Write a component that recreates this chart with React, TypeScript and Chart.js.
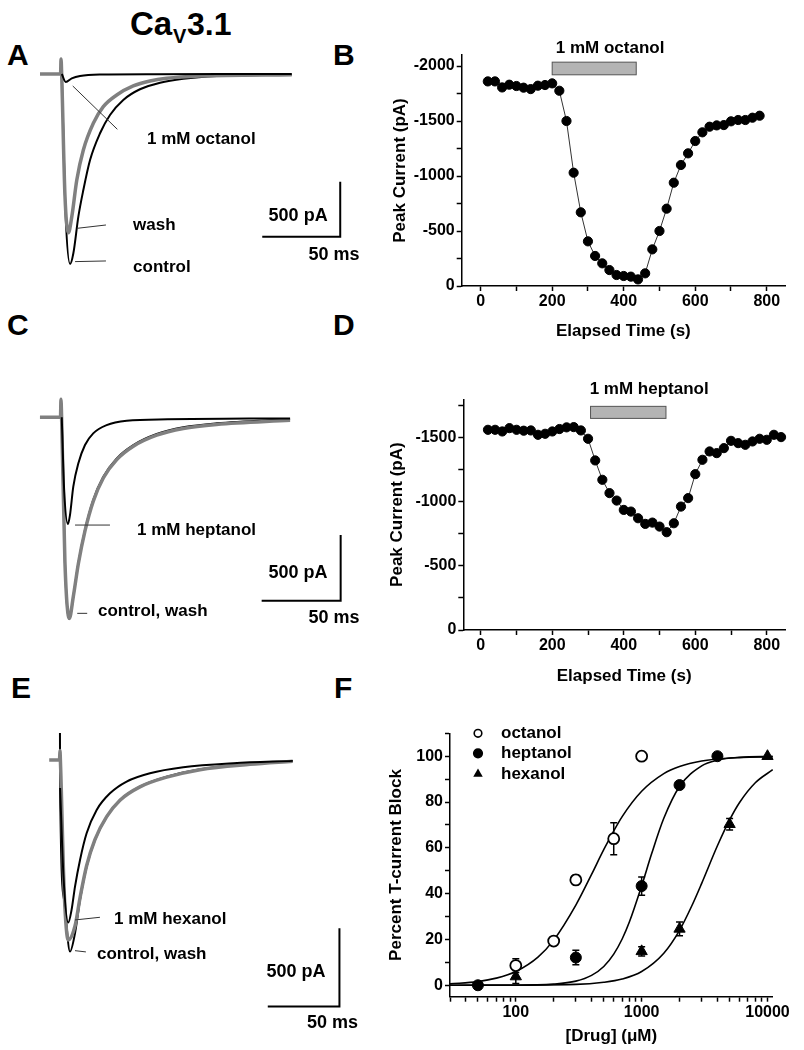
import React, { useEffect, useRef } from 'react';
import { Chart, registerables } from 'chart.js';

Chart.register(...registerables);

const FONT = "'Liberation Sans', Arial, Helvetica, sans-serif";
Chart.defaults.font.family = FONT;
Chart.defaults.color = '#000';

/* ===================== Panel A traces (ms, pA) ===================== */
const aControlT = [0.5, 3, 5.8, 7.9, 11.1, 14.3, 18.6, 25, 31.4, 39.9, 50.6, 63.5, 78.4, 99.8, 147.9];
const aControlI = [0, -1300, -1727, -1630, -1297, -1055, -782, -539, -373, -236, -139, -79, -43, -18, -6];
const aWashT = [-13.5, -0.3, 0, 0.4, 2.5, 4.7, 6.9, 10.1, 14.3, 20.7, 27.1, 35.7, 46.3, 57, 67.7, 89.1, 147.9];
const aWashI = [0, 0, 136, 0, -1100, -1443, -1297, -964, -691, -448, -297, -191, -109, -64, -39, -18, -6];
const aDrugT = [0.5, 3, 6.9, 12.2, 25, 60, 147.9];
const aDrugI = [0, -73, -40, -18, -5, -2, 0];
const aLabelText = ['1 mM octanol', 'wash', 'control'];
const aLabelT = [55.1, 46.2, 46.2];
const aLabelI = [-591, -1373, -1755];
const aPointers = [[7.5, -109, 36.1, -503], [10.4, -1403, 28.8, -1373], [9, -1706, 28.8, -1700]];
const aScaleCorner = [179, -1480];
const aScaleLabels = [[152, -1291], [175, -1645]];

/* ===================== Panel C traces ===================== */
const cControlT = [0.5, 2.5, 5.3, 7.8, 11, 15.2, 20.4, 26.8, 35.3, 45.8, 60.6, 77.4, 98.5, 145];
const cControlI = [0, -1100, -1537, -1365, -1111, -858, -629, -452, -312, -211, -127, -76, -46, -15];
const cWashT = [-13.3, -0.3, 0, 0.4, 2.5, 5.3, 7.8, 11, 15.2, 20.4, 26.8, 35.3, 45.8, 60.6, 77.4, 98.5, 145];
const cWashI = [0, 0, 137, 0, -1100, -1530, -1365, -1115, -865, -640, -462, -322, -220, -136, -85, -54, -22];
const cDrugT = [0.5, 2, 4.4, 5.7, 7.8, 11, 15.2, 20.4, 28.9, 41.6, 67.5, 145];
const cDrugI = [0, -550, -812, -744, -528, -350, -211, -122, -59, -26, -15, -8];
const cLabelText = ['1 mM heptanol', 'control, wash'];
const cLabelT = [48.1, 23.4];
const cLabelI = [-858, -1479];
const cPointers = [[8.9, -820, 31, -820], [10.3, -1492, 16.6, -1492]];
const cScaleCorner = [177, -1396];
const cScaleLabels = [[150, -1185], [172.8, -1528]];

/* ===================== Panel E traces ===================== */
const eControlT = [0, 0.1, 3, 7, 10.5, 14, 18.6, 24.4, 32.6, 41.9, 55.8, 74.5, 97.7, 132.6, 162.4];
const eControlI = [172, -179, -900, -1223, -1106, -893, -681, -511, -362, -255, -170, -107, -59, -26, -6];
const eWashT = [-7.5, -0.3, 0, 0.3, 3, 5.8, 10.5, 14, 18.6, 24.4, 32.6, 41.9, 55.8, 74.5, 97.7, 132.6, 162.4];
const eWashI = [0, 0, 60, 0, -850, -1149, -1060, -880, -675, -508, -362, -257, -172, -110, -62, -28, -8];
const eDrugT = [0.1, 2.5, 5.8, 8.1, 10.5, 14, 18.6, 25.6, 34.9, 46.5, 62.8, 86, 121, 162.4];
const eDrugI = [-179, -750, -1038, -957, -808, -638, -468, -319, -213, -138, -85, -47, -21, -6];
const eLabelText = ['1 mM hexanol', 'control, wash'];
const eLabelT = [37.7, 25.8];
const eLabelI = [-1017, -1238];
const ePointers = [[10.5, -1021, 27.9, -1004], [10.5, -1217, 18.1, -1225]];
const eScaleCorner = [195, -1574];
const eScaleLabels = [[164.7, -1351], [190.2, -1680]];

const scaleBarMs = 50;
const scaleBarPa = 500;

/* ===================== Panel B: time course, octanol ===================== */
const bTime = [20, 40, 60, 80, 100, 120, 140, 160, 180, 200, 220, 240, 260, 280, 300, 320, 340, 360, 380, 400,
  420, 440, 460, 480, 500, 520, 540, 560, 580, 600, 620, 640, 660, 680, 700, 720, 740, 760, 780];
const bCurrent = [-1860, -1860, -1805, -1830, -1818, -1803, -1790, -1821, -1827, -1842, -1775, -1500, -1030, -670,
  -406, -273, -206, -145, -100, -91, -85, -60, -115, -333, -500, -703, -939, -1100, -1206, -1318, -1397, -1448,
  -1460, -1463, -1497, -1509, -1509, -1530, -1548];
const bDrugSpan = [200, 435];
const bDrugLevel = [-2035, -1920];
const bDrugLabel = '1 mM octanol';
const bDrugLabelPos = [362, -2164];
const bYTicks = [-2000, -1750, -1500, -1250, -1000, -750, -500, -250, 0];

/* ===================== Panel D: time course, heptanol ===================== */
const dTime = [20, 40, 60, 80, 100, 120, 140, 160, 180, 200, 220, 240, 260, 280, 300, 320, 340, 360, 380, 400,
  420, 440, 460, 480, 500, 520, 540, 560, 580, 600, 620, 640, 660, 680, 700, 720, 740, 760, 780, 800, 820, 840];
const dCurrent = [-1562, -1562, -1549, -1575, -1562, -1555, -1557, -1523, -1531, -1549, -1568, -1581, -1583, -1557,
  -1492, -1323, -1172, -1068, -1010, -937, -924, -872, -828, -838, -807, -763, -833, -963, -1029, -1216, -1328,
  -1393, -1380, -1419, -1476, -1458, -1445, -1471, -1492, -1484, -1523, -1505];
const dDrugSpan = [307, 518];
const dDrugLevel = [-1745, -1651];
const dDrugLabel = '1 mM heptanol';
const dDrugLabelPos = [471, -1875];
const dYTicks = [-1750, -1500, -1250, -1000, -750, -500, -250, 0];

const timeTicks = [0, 100, 200, 300, 400, 500, 600, 700, 800];

/* ===================== Panel F: concentration-response ===================== */
const fOctanolConc = [100, 200, 300, 600, 1000];
const fOctanolBlock = [8.6, 19.3, 46, 64, 100];
const fOctanolErr = [3, 1, 2, 7, 0];
const fHeptanolConc = [50, 300, 1000, 2000, 4000];
const fHeptanolBlock = [0, 12.1, 43.3, 87.4, 100];
const fHeptanolErr = [0, 3.2, 4, 1, 0];
const fHexanolConc = [100, 1000, 2000, 5000, 10000];
const fHexanolBlock = [3.8, 14.8, 24.6, 70.3, 100];
const fHexanolErr = [3, 2, 3, 2.5, 0];
const fOctanolFitX = [30, 50, 70, 100, 150, 200, 300, 400, 500, 700, 1000, 1500, 2000, 3000, 5000, 11000];
const fOctanolFitY = [0.6, 1.6, 3.1, 6.0, 12.3, 19.7, 35.0, 48.4, 59.2, 73.6, 84.7, 92.4, 95.5, 97.9, 99.2, 99.8];
const fHeptanolFitX = [30, 100, 200, 300, 400, 500, 600, 700, 800, 1000, 1200, 1500, 2000, 3000, 4000, 6000, 11000];
const fHeptanolFitY = [0, 0, 0.5, 1.8, 4.3, 8.2, 13.6, 20.2, 27.7, 43.4, 57.4, 72.9, 86.8, 95.8, 98.3, 99.5, 99.9];
const fHexanolFitX = [30, 300, 500, 700, 1000, 1500, 2000, 2500, 3000, 4000, 5000, 6000, 8000, 11000];
const fHexanolFitY = [0, 0.4, 1.3, 2.7, 6.0, 14.0, 24.0, 34.6, 44.5, 60.9, 72.2, 79.8, 88.4, 94.1];
const fLegendNames = ['octanol', 'heptanol', 'hexanol'];
const fXTicks = [30, 40, 50, 60, 70, 80, 90, 100, 200, 300, 400, 500, 600, 700, 800, 900, 1000,
  2000, 3000, 4000, 5000, 6000, 7000, 8000, 9000, 10000];
const fXLabelled = [100, 1000, 10000];
const fYTicks = [0, 10, 20, 30, 40, 50, 60, 70, 80, 90, 100, 110];

/* ===================== helpers ===================== */
const pts = (xs: number[], ys: number[]) => xs.map((x, i) => ({ x, y: ys[i] }));
const boldFont = (size: number) => `bold ${size}px ${FONT}`;
const setTicks = (values: number[]) => (sc: any) => { sc.ticks = values.map((v) => ({ value: v })); };

type Box = { x: number; y: number; w: number; h: number };

function ChartCanvas({ box, make }: { box: Box; make: () => any }) {
  const ref = useRef<HTMLCanvasElement | null>(null);
  useEffect(() => {
    const chart = new Chart(ref.current as HTMLCanvasElement, make());
    return () => chart.destroy();
  }, []);
  return (
    <canvas
      ref={ref}
      width={box.w}
      height={box.h}
      style={{ position: 'absolute', left: box.x, top: box.y, width: box.w, height: box.h, display: 'block' }}
    />
  );
}

type TraceSpec = {
  traces: { t: number[]; i: number[]; color: string; width: number }[];
  xr: number[];
  yr: number[];
  labels: string[];
  labelT: number[];
  labelI: number[];
  pointers: number[][];
  corner: number[];
  scaleLabels: number[][];
};

function traceConfig(s: TraceSpec) {
  const annotate = {
    id: 'traceAnnotations',
    afterDatasetsDraw(chart: any) {
      const { ctx } = chart;
      const xs = chart.scales.x;
      const ys = chart.scales.y;
      const px = (v: number) => xs.getPixelForValue(v);
      const py = (v: number) => ys.getPixelForValue(v);
      ctx.save();
      ctx.strokeStyle = '#333';
      ctx.lineWidth = 1;
      s.pointers.forEach((p) => {
        ctx.beginPath();
        ctx.moveTo(px(p[0]), py(p[1]));
        ctx.lineTo(px(p[2]), py(p[3]));
        ctx.stroke();
      });
      ctx.fillStyle = '#000';
      ctx.font = boldFont(17);
      ctx.textBaseline = 'middle';
      ctx.textAlign = 'left';
      s.labels.forEach((txt, k) => ctx.fillText(txt, px(s.labelT[k]), py(s.labelI[k])));
      const [ct, ci] = s.corner;
      ctx.strokeStyle = '#000';
      ctx.lineWidth = 2;
      ctx.beginPath();
      ctx.moveTo(px(ct - scaleBarMs), py(ci));
      ctx.lineTo(px(ct), py(ci));
      ctx.lineTo(px(ct), py(ci + scaleBarPa));
      ctx.stroke();
      ctx.font = boldFont(18);
      ctx.textAlign = 'center';
      ctx.fillText(`${scaleBarPa} pA`, px(s.scaleLabels[0][0]), py(s.scaleLabels[0][1]));
      ctx.fillText(`${scaleBarMs} ms`, px(s.scaleLabels[1][0]), py(s.scaleLabels[1][1]));
      ctx.restore();
    },
  };
  return {
    type: 'line',
    data: {
      datasets: s.traces.map((tr) => ({
        data: pts(tr.t, tr.i),
        borderColor: tr.color,
        borderWidth: tr.width,
        pointRadius: 0,
        cubicInterpolationMode: 'monotone',
        fill: false,
        clip: false,
      })),
    },
    options: {
      animation: false,
      responsive: false,
      events: [],
      layout: { padding: 0 },
      plugins: { legend: { display: false }, tooltip: { enabled: false } },
      scales: {
        x: { type: 'linear', display: false, min: s.xr[0], max: s.xr[1] },
        y: { type: 'linear', display: false, min: s.yr[0], max: s.yr[1] },
      },
    },
    plugins: [annotate],
  };
}

const GRAY = '#808080';

const axisBase = (titleText: string, titlePad: any, tickPad: number) => ({
  border: { display: true, color: '#000', width: 1.5 },
  grid: { display: true, drawOnChartArea: false, drawTicks: true, tickLength: 5, tickColor: '#000', tickWidth: 1.5 },
  ticks: {
    color: '#000',
    font: { family: FONT, size: 16, weight: 'bold' },
    padding: tickPad,
    autoSkip: false,
    maxRotation: 0,
    minRotation: 0,
  },
  title: { display: true, text: titleText, color: '#000', font: { family: FONT, size: 17, weight: 'bold' }, padding: titlePad },
});

type CourseSpec = {
  time: number[];
  current: number[];
  xr: number[];
  ymin: number;
  yTicks: number[];
  span: number[];
  level: number[];
  label: string;
  labelPos: number[];
  yWidth: number;
  xHeight: number;
  padTop: number;
  padRight: number;
  yTitlePad: number;
  xTitlePad: number;
};

function courseConfig(s: CourseSpec) {
  const drugBar = {
    id: 'drugBar',
    afterDraw(chart: any) {
      const { ctx } = chart;
      const xs = chart.scales.x;
      const ys = chart.scales.y;
      const x0 = xs.getPixelForValue(s.span[0]);
      const x1 = xs.getPixelForValue(s.span[1]);
      const y0 = ys.getPixelForValue(s.level[0]);
      const y1 = ys.getPixelForValue(s.level[1]);
      ctx.save();
      ctx.fillStyle = '#b4b4b4';
      ctx.fillRect(x0, Math.min(y0, y1), x1 - x0, Math.abs(y1 - y0));
      ctx.strokeStyle = '#555';
      ctx.lineWidth = 1;
      ctx.strokeRect(x0, Math.min(y0, y1), x1 - x0, Math.abs(y1 - y0));
      ctx.fillStyle = '#000';
      ctx.font = boldFont(17);
      ctx.textAlign = 'center';
      ctx.textBaseline = 'middle';
      ctx.fillText(s.label, xs.getPixelForValue(s.labelPos[0]), ys.getPixelForValue(s.labelPos[1]));
      ctx.restore();
    },
  };
  const xAxis: any = axisBase('Elapsed Time (s)', { top: 0, bottom: s.xTitlePad }, 1);
  xAxis.type = 'linear';
  xAxis.min = s.xr[0];
  xAxis.max = s.xr[1];
  xAxis.afterBuildTicks = setTicks(timeTicks);
  xAxis.ticks.callback = (v: number) => (Math.round(v) % 200 === 0 ? String(Math.round(v)) : '');
  xAxis.afterFit = (sc: any) => { sc.height = s.xHeight; };
  const yAxis: any = axisBase('Peak Current (pA)', { top: s.yTitlePad, bottom: 0 }, 2);
  yAxis.type = 'linear';
  yAxis.min = s.ymin;
  yAxis.max = 0;
  yAxis.reverse = true;
  yAxis.afterBuildTicks = setTicks(s.yTicks);
  yAxis.ticks.callback = (v: number) => (Math.round(v) % 500 === 0 ? String(Math.round(v)) : '');
  yAxis.afterFit = (sc: any) => { sc.width = s.yWidth; };
  return {
    type: 'line',
    data: {
      datasets: [{
        data: pts(s.time, s.current),
        borderColor: '#333',
        borderWidth: 1,
        pointRadius: 4.6,
        pointBackgroundColor: '#000',
        pointBorderColor: '#000',
        pointBorderWidth: 1,
        tension: 0,
        fill: false,
        clip: false,
      }],
    },
    options: {
      animation: false,
      responsive: false,
      events: [],
      layout: { padding: { top: s.padTop, right: s.padRight, left: 0, bottom: 0 } },
      plugins: { legend: { display: false }, tooltip: { enabled: false } },
      scales: { x: xAxis, y: yAxis },
    },
    plugins: [drugBar],
  };
}

function drawSymbol(ctx: any, kind: number, x: number, y: number, r: number) {
  ctx.beginPath();
  if (kind === 2) {
    const a = (2 * Math.PI) / 3;
    ctx.moveTo(x, y - r);
    ctx.lineTo(x + Math.sin(a) * r, y - Math.cos(a) * r);
    ctx.lineTo(x + Math.sin(2 * a) * r, y - Math.cos(2 * a) * r);
    ctx.closePath();
    ctx.fillStyle = '#000';
    ctx.fill();
  } else {
    ctx.arc(x, y, r, 0, Math.PI * 2);
    ctx.fillStyle = kind === 0 ? '#fff' : '#000';
    ctx.fill();
    ctx.lineWidth = 1.6;
    ctx.strokeStyle = '#000';
    ctx.stroke();
  }
}

function doseConfig() {
  const series = [
    { x: fOctanolConc, y: fOctanolBlock, e: fOctanolErr },
    { x: fHeptanolConc, y: fHeptanolBlock, e: fHeptanolErr },
    { x: fHexanolConc, y: fHexanolBlock, e: fHexanolErr },
  ];
  const errorBars = {
    id: 'errorBars',
    beforeDatasetsDraw(chart: any) {
      const { ctx } = chart;
      const xs = chart.scales.x;
      const ys = chart.scales.y;
      ctx.save();
      ctx.strokeStyle = '#000';
      ctx.lineWidth = 1.5;
      series.forEach((s) => {
        s.x.forEach((xv, k) => {
          const err = s.e[k];
          if (!err) return;
          const px = xs.getPixelForValue(xv);
          const yTop = ys.getPixelForValue(s.y[k] + err);
          const yBot = ys.getPixelForValue(s.y[k] - err);
          ctx.beginPath();
          ctx.moveTo(px, yTop);
          ctx.lineTo(px, yBot);
          ctx.moveTo(px - 3.5, yTop);
          ctx.lineTo(px + 3.5, yTop);
          ctx.moveTo(px - 3.5, yBot);
          ctx.lineTo(px + 3.5, yBot);
          ctx.stroke();
        });
      });
      ctx.restore();
    },
  };
  const legend = {
    id: 'doseLegend',
    afterDraw(chart: any) {
      const { ctx, chartArea } = chart;
      ctx.save();
      const sx = chartArea.left + 28;
      const rowY = [chartArea.top, chartArea.top + 20, chartArea.top + 40.7];
      const radii = [3.8, 4.3, 5.5];
      fLegendNames.forEach((name, k) => {
        drawSymbol(ctx, k, sx, rowY[k], radii[k]);
        ctx.fillStyle = '#000';
        ctx.font = boldFont(17);
        ctx.textAlign = 'left';
        ctx.textBaseline = 'middle';
        ctx.fillText(name, sx + 23, rowY[k]);
      });
      ctx.restore();
    },
  };
  const xAxis: any = axisBase('[Drug] (\u03bcM)', { top: 0, bottom: 3.1 }, 1);
  xAxis.type = 'logarithmic';
  xAxis.min = 30;
  xAxis.max = 11000;
  xAxis.afterBuildTicks = setTicks(fXTicks);
  xAxis.ticks.callback = (v: number) => (fXLabelled.includes(v) ? String(v) : '');
  xAxis.afterFit = (sc: any) => { sc.height = 53.3; };
  const yAxis: any = axisBase('Percent T-current Block', { top: 6.5, bottom: 0 }, 2);
  yAxis.type = 'linear';
  yAxis.min = -5;
  yAxis.max = 110;
  yAxis.afterBuildTicks = setTicks(fYTicks);
  yAxis.ticks.callback = (v: number) => (v % 20 === 0 && v >= 0 && v <= 100 ? String(v) : '');
  yAxis.afterFit = (sc: any) => { sc.width = 70; };
  const fit = (x: number[], y: number[]) => ({
    data: pts(x, y),
    showLine: true,
    borderColor: '#000',
    borderWidth: 1.6,
    pointRadius: 0,
    cubicInterpolationMode: 'monotone',
    fill: false,
    clip: false,
  });
  return {
    type: 'scatter',
    data: {
      datasets: [
        { data: pts(fOctanolConc, fOctanolBlock), pointStyle: 'circle', pointRadius: 5.5, pointBackgroundColor: '#fff', pointBorderColor: '#000', pointBorderWidth: 1.8, showLine: false, clip: false },
        { data: pts(fHeptanolConc, fHeptanolBlock), pointStyle: 'circle', pointRadius: 5.5, pointBackgroundColor: '#000', pointBorderColor: '#000', pointBorderWidth: 1, showLine: false, clip: false },
        { data: pts(fHexanolConc, fHexanolBlock), pointStyle: 'triangle', pointRadius: 6.5, pointBackgroundColor: '#000', pointBorderColor: '#000', pointBorderWidth: 1, showLine: false, clip: false },
        fit(fOctanolFitX, fOctanolFitY),
        fit(fHeptanolFitX, fHeptanolFitY),
        fit(fHexanolFitX, fHexanolFitY),
      ],
    },
    options: {
      animation: false,
      responsive: false,
      events: [],
      layout: { padding: { top: 18.3, right: 31.3, left: 0, bottom: 0 } },
      plugins: { legend: { display: false }, tooltip: { enabled: false } },
      scales: { x: xAxis, y: yAxis },
    },
    plugins: [errorBars, legend],
  };
}

/* ===================== specs ===================== */
const panelA: TraceSpec = {
  traces: [
    { t: aDrugT, i: aDrugI, color: '#000', width: 2 },
    { t: aWashT, i: aWashI, color: GRAY, width: 3.5 },
    { t: aControlT, i: aControlI, color: '#000', width: 2 },
  ],
  xr: [-19.9, 204.5],
  yr: [-1964, 309],
  labels: aLabelText, labelT: aLabelT, labelI: aLabelI,
  pointers: aPointers, corner: aScaleCorner, scaleLabels: aScaleLabels,
};
const panelC: TraceSpec = {
  traces: [
    { t: cDrugT, i: cDrugI, color: '#000', width: 2 },
    { t: cWashT, i: cWashI, color: GRAY, width: 3.5 },
    { t: cControlT, i: cControlI, color: '#000', width: 2 },
  ],
  xr: [-19.6, 201.9],
  yr: [-1695, 208],
  labels: cLabelText, labelT: cLabelT, labelI: cLabelI,
  pointers: cPointers, corner: cScaleCorner, scaleLabels: cScaleLabels,
};
const panelE: TraceSpec = {
  traces: [
    { t: eDrugT, i: eDrugI, color: '#000', width: 2 },
    { t: eWashT, i: eWashI, color: GRAY, width: 3.5 },
    { t: eControlT, i: eControlI, color: '#000', width: 2 },
  ],
  xr: [-20.9, 223.3],
  yr: [-1787, 191],
  labels: eLabelText, labelT: eLabelT, labelI: eLabelI,
  pointers: ePointers, corner: eScaleCorner, scaleLabels: eScaleLabels,
};
const panelB: CourseSpec = {
  time: bTime, current: bCurrent, xr: [-53, 851], ymin: -2100, yTicks: bYTicks,
  span: bDrugSpan, level: bDrugLevel, label: bDrugLabel, labelPos: bDrugLabelPos,
  yWidth: 81.7, xHeight: 59, padTop: 25, padRight: 19, yTitlePad: 10, xTitlePad: 3.1,
};
const panelD: CourseSpec = {
  time: dTime, current: dCurrent, xr: [-49, 851], ymin: -1800, yTicks: dYTicks,
  span: dDrugSpan, level: dDrugLevel, label: dDrugLabel, labelPos: dDrugLabelPos,
  yWidth: 83.3, xHeight: 65, padTop: 19.3, padRight: 19, yTitlePad: 7, xTitlePad: 8.1,
};

const letterStyle = (left: number, top: number): React.CSSProperties => ({
  position: 'absolute', left, top, fontFamily: FONT, fontWeight: 'bold', fontSize: 30, lineHeight: '30px', color: '#000',
});

export default function App() {
  return (
    <div style={{ position: 'absolute', left: 0, top: 0, width: 804, height: 1050, background: '#fff', overflow: 'hidden' }}>
      <span style={{ position: 'absolute', left: 130, top: 7, fontFamily: FONT, fontWeight: 'bold', fontSize: 33, lineHeight: '33px' }}>Ca</span>
      <span style={{ position: 'absolute', left: 173, top: 26, fontFamily: FONT, fontWeight: 'bold', fontSize: 20, lineHeight: '20px' }}>V</span>
      <span style={{ position: 'absolute', left: 187, top: 8, fontFamily: FONT, fontWeight: 'bold', fontSize: 32, lineHeight: '32px' }}>3.1</span>
      <div style={letterStyle(7, 39.6)}>A</div>
      <div style={letterStyle(333, 39.6)}>B</div>
      <div style={letterStyle(7, 309.6)}>C</div>
      <div style={letterStyle(333, 309.6)}>D</div>
      <div style={letterStyle(11, 672.6)}>E</div>
      <div style={letterStyle(334, 672.6)}>F</div>
      <ChartCanvas box={{ x: 30, y: 40, w: 350, h: 250 }} make={() => traceConfig(panelA)} />
      <ChartCanvas box={{ x: 30, y: 390, w: 350, h: 250 }} make={() => traceConfig(panelC)} />
      <ChartCanvas box={{ x: 30, y: 730, w: 350, h: 310 }} make={() => traceConfig(panelE)} />
      <ChartCanvas box={{ x: 380, y: 30, w: 424, h: 315 }} make={() => courseConfig(panelB)} />
      <ChartCanvas box={{ x: 380, y: 380, w: 424, h: 315 }} make={() => courseConfig(panelD)} />
      <ChartCanvas box={{ x: 380, y: 715, w: 424, h: 335 }} make={() => doseConfig()} />
    </div>
  );
}
